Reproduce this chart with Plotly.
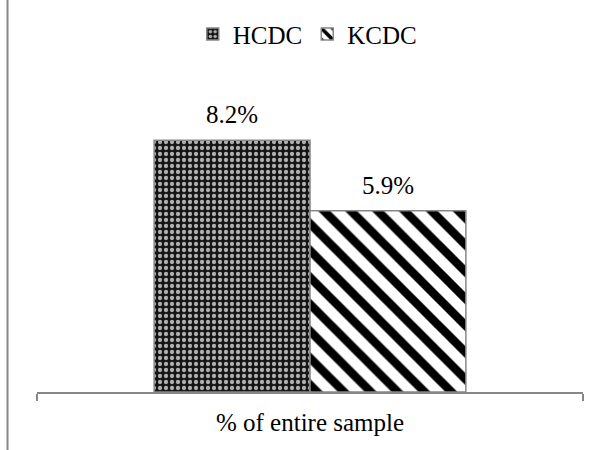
import plotly.graph_objects as go

categories = ["% of entire sample"]
series_names = ["HCDC", "KCDC"]
hcdc_values = [8.2]
kcdc_values = [5.9]

FONT = "Liberation Serif"
GRAY = "#878787"
BARGAP = 0.429

patterns = [
    dict(shape=".", bgcolor="#151515", fgcolor="#b0b0b0", size=6, solidity=0.4,
         fillmode="replace", fgopacity=1),
    dict(shape="\\", bgcolor="white", fgcolor="black", size=19, solidity=0.45,
         fillmode="replace", fgopacity=1),
]

fig = go.Figure()
annotations = []
n = len(series_names)
bw = (1 - BARGAP) / n
for i, (name, vals, pat) in enumerate(zip(series_names, [hcdc_values, kcdc_values], patterns)):
    fig.add_trace(go.Bar(
        name=name, x=categories, y=vals,
        marker=dict(color="white", pattern=pat, line=dict(color=GRAY, width=1.5)),
        hoverinfo="skip",
    ))
    center = -(1 - BARGAP) / 2 + bw * (i + 0.5)
    for v in vals:
        annotations.append(dict(
            x=center, y=v, xref="x", yref="y",
            text=f"{v}%", showarrow=False, yanchor="bottom", yshift=10,
            font=dict(family=FONT, size=25, color="black"),
        ))

fig.update_layout(
    template="none",
    width=603, height=450,
    margin=dict(l=37, r=20, t=85, b=58, autoexpand=False),
    paper_bgcolor="white", plot_bgcolor="white",
    barmode="group", bargap=BARGAP, bargroupgap=0,
    showlegend=True,
    font=dict(family=FONT, size=25, color="black"),
    legend=dict(orientation="h", x=0.495, y=1.165, xanchor="center", yanchor="middle",
                font=dict(family=FONT, size=25, color="black"),
                bgcolor="rgba(0,0,0,0)", borderwidth=0),
    annotations=annotations,
    xaxis=dict(type="category", range=[-0.5, 0.5], showline=True, linecolor=GRAY, linewidth=1.5,
               ticks="outside", tickson="boundaries", ticklen=7, tickcolor=GRAY, tickwidth=1.5,
               showgrid=False, zeroline=False, automargin=False, ticklabelstandoff=7,
               tickfont=dict(family=FONT, size=25, color="black")),
    yaxis=dict(range=[0, 10], visible=False, automargin=False, showgrid=False, zeroline=False),
    shapes=[dict(type="line", xref="paper", yref="paper", x0=-0.054, x1=-0.054, y0=-0.3, y1=1.4,
                 line=dict(color=GRAY, width=2))],
)

fig.write_html("out.html")
